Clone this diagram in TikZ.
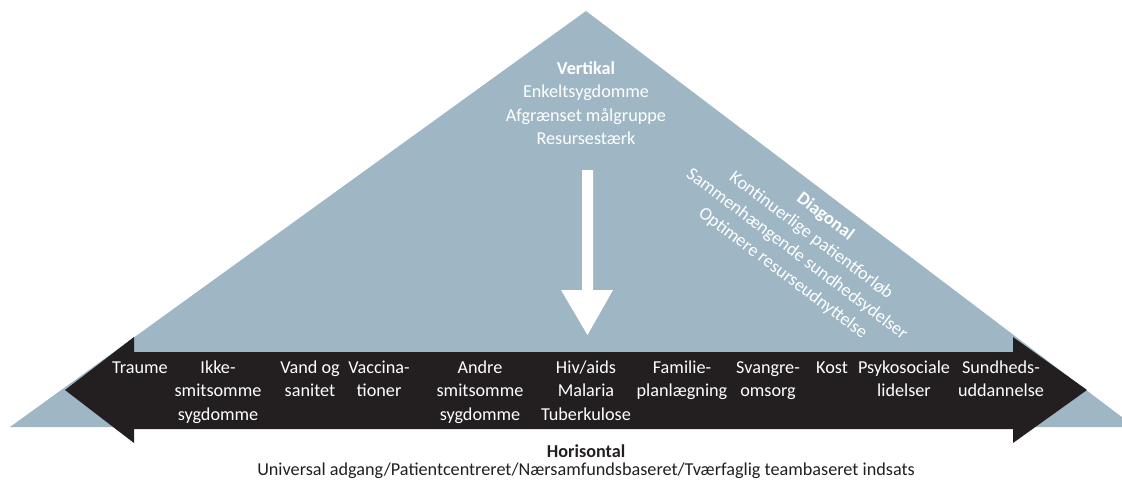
\documentclass[tikz,border=0pt]{standalone}
\usepackage{fontspec}
\setmainfont{Carlito}
\usepackage{tikz}
\definecolor{healthblue}{RGB}{159,183,197}
\definecolor{healthblack}{RGB}{35,31,32}

\begin{document}
\begin{tikzpicture}[x=1pt, y=-1pt,
  topic/.style={anchor=base, align=center, inner sep=0pt, text=white, font=\fontsize{18.2}{23.5}\selectfont},
  caption/.style={anchor=base, align=center, inner sep=0pt, text=healthblack, font=\fontsize{18.2}{23.5}\selectfont}]
  \useasboundingbox (0,0) rectangle (1122,483);
  \clip (0,0) rectangle (1122,483);
  % triangle and the two block arrows
  \fill[healthblue] (586,11) -- (1135,427) -- (10,427) -- cycle;
  \fill[healthblack] (65,390) -- (134,337) -- (134,352) -- (1013,352) -- (1013,337) -- (1087,390)
    -- (1013,443) -- (1013,429) -- (134,429) -- (134,443) -- cycle;
  \fill[white] (582,170) -- (593,170) -- (593,290) -- (613,290) -- (587.5,335) -- (561,290) -- (582,290) -- cycle;
  % base anchor sits on the last line
  \node[topic] (vert) at (586,144.5) {\textbf{Vertikal}\\Enkeltsygdomme\\Afgrænset målgruppe\\Resursestærk};
  \node[topic, anchor=center, rotate=-37] (diag) at (804,245) {\textbf{Diagonal}\\Kontinuerlige patientforløb\\Sammenhængende sundhedsydelser\\Optimere resurseudnyttelse};
  \node[topic] (t1) at (140,373) {Traume};
  \node[topic] (t2) at (218,420) {Ikke-\\smitsomme\\sygdomme};
  \node[topic] (t3) at (310,396.5) {Vand og\\sanitet};
  \node[topic] (t4) at (379,396.5) {Vaccina-\\tioner};
  \node[topic] (t5) at (480,420) {Andre\\smitsomme\\sygdomme};
  \node[topic] (t6) at (586,420) {Hiv/aids\\Malaria\\Tuberkulose};
  \node[topic] (t7) at (682,396.5) {Familie-\\planlægning};
  \node[topic] (t8) at (768,396.5) {Svangre-\\omsorg};
  \node[topic] (t9) at (832,373) {Kost};
  \node[topic] (t10) at (904,396.5) {Psykosociale\\lidelser};
  \node[topic] (t11) at (1001,396.5) {Sundheds-\\uddannelse};
  \node[caption] (hori) at (586,457) {\textbf{Horisontal}};
  \node[caption] (hsub) at (586,475) {Universal adgang/Patientcentreret/Nærsamfundsbaseret/Tværfaglig teambaseret indsats};
\end{tikzpicture}
\end{document}
